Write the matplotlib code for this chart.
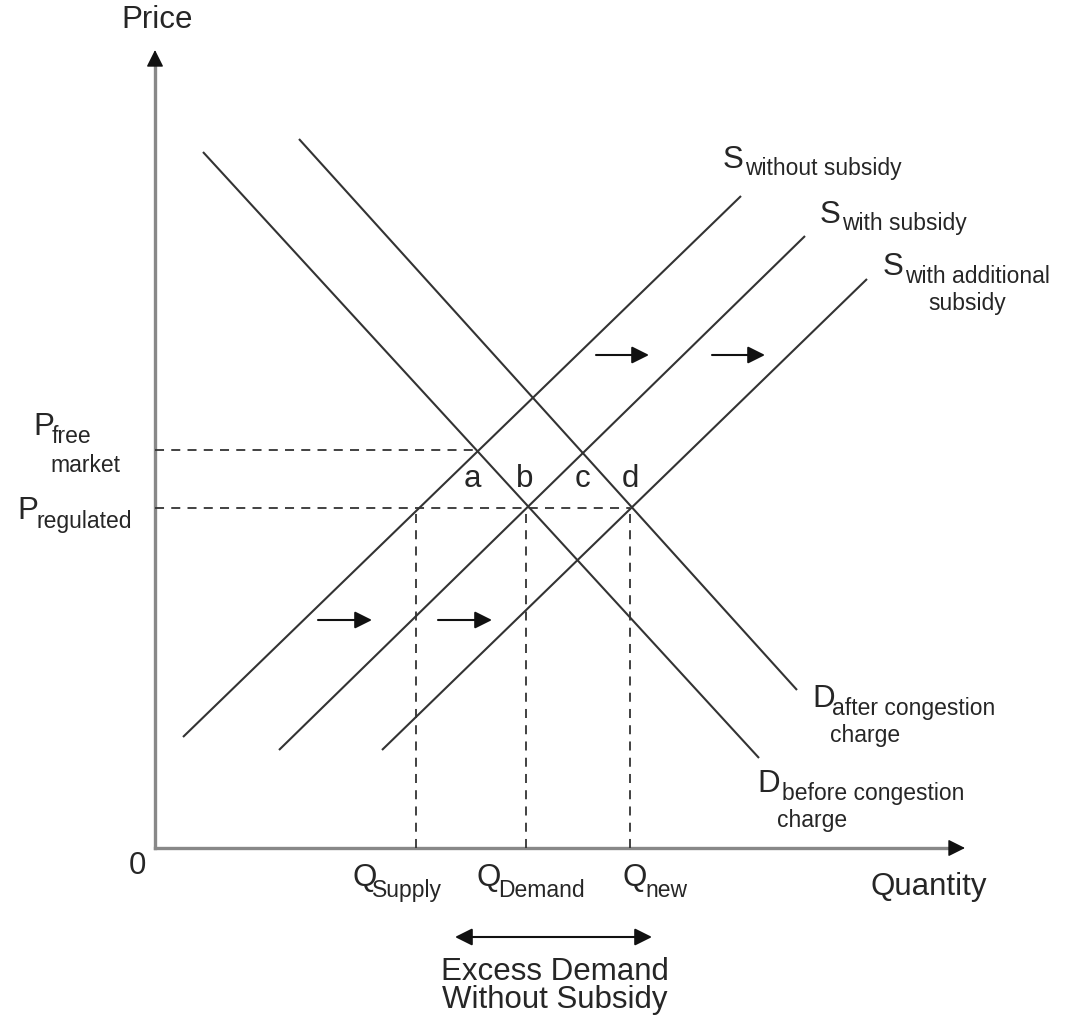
import matplotlib
matplotlib.use('Agg')
import matplotlib.pyplot as plt

plt.rcParams['font.family'] = ['Liberation Sans', 'DejaVu Sans']

# curve end points (quantity, price)
d_before_q = [4.8, 60.4]
d_before_p = [69.6, 9.0]
d_after_q = [14.4, 64.2]
d_after_p = [70.9, 15.8]
s_without_q = [2.8, 58.6]
s_without_p = [11.1, 65.2]
s_with_q = [12.4, 65.0]
s_with_p = [9.8, 61.2]
s_add_q = [22.7, 71.2]
s_add_p = [9.8, 56.9]

# price levels and quantities
p_free = 39.8
p_reg = 34.0
q_free = 32.3
q_supply = 26.1
q_demand = 37.1
q_new = 47.5

# points a-d
point_labels = ['a', 'b', 'c', 'd']
point_q = [31.7, 37.0, 42.8, 47.5]

# shift arrows: (start q, end q, price)
shift_arrows = [(16.3, 21.7, 22.8), (28.3, 33.7, 22.8),
                (44.1, 49.4, 49.3), (55.7, 61.0, 49.3)]

q_max = 81.0
p_max = 79.8

line_col = '#333333'
text_col = '#262626'
big = 22.5
small = 16.5

fig = plt.figure(figsize=(10.68, 10.23), dpi=100)
ax = fig.add_axes([0, 0, 1, 1])
ax.set_xlim(-15.5, 91.3)
ax.set_ylim(-17.5, 84.8)
ax.axis('off')

# axes: grey lines with black arrow heads
ax.plot([0, 0], [0, p_max - 1.0], color='#888888', lw=2.4, solid_capstyle='projecting')
ax.plot([0, q_max - 1.0], [0, 0], color='#888888', lw=2.4, solid_capstyle='projecting')
head = dict(arrowstyle='-|>', color='#111111', lw=1.0, mutation_scale=26,
            shrinkA=0, shrinkB=0)
ax.annotate('', xy=(0, p_max), xytext=(0, p_max - 1.5), arrowprops=head)
ax.annotate('', xy=(q_max, 0), xytext=(q_max - 1.5, 0), arrowprops=head)

# curves
for q, p in [(d_before_q, d_before_p), (d_after_q, d_after_p),
             (s_without_q, s_without_p), (s_with_q, s_with_p), (s_add_q, s_add_p)]:
    ax.plot(q, p, color=line_col, lw=1.5, solid_capstyle='butt')

# dashed guides
dash = dict(color=line_col, lw=1.3, ls=(0, (5, 4)))
ax.plot([0, q_free], [p_free, p_free], **dash)
ax.plot([0, q_new], [p_reg, p_reg], **dash)
for q in [q_supply, q_demand, q_new]:
    ax.plot([q, q], [0, p_reg], **dash)

# shift arrows
for q0, q1, p in shift_arrows:
    ax.annotate('', xy=(q1, p), xytext=(q0, p),
                arrowprops=dict(arrowstyle='-|>', color='#111111', lw=1.5,
                                mutation_scale=26, shrinkA=0, shrinkB=0))

# excess demand arrow
ax.annotate('', xy=(49.7, -8.9), xytext=(30.0, -8.9),
            arrowprops=dict(arrowstyle='<|-|>', color='#111111', lw=1.5,
                            mutation_scale=26, shrinkA=0, shrinkB=0))

def lab(x, y, s, size=big, ha='left', va='baseline'):
    ax.text(x, y, s, fontsize=size, ha=ha, va=va, color=text_col)

lab(0.2, 82.8, 'Price', ha='center', va='center')
lab(-1.8, -1.8, '0', ha='center', va='center')
lab(71.6, -4.7, 'Quantity')

for s, q in zip(point_labels, point_q):
    lab(q, 36.1, s, ha='center')

# price labels
lab(-12.2, 41.3, 'P')
lab(-10.3, 40.5, 'free', small)
lab(-10.5, 37.6, 'market', small)
lab(-13.8, 32.9, 'P')
lab(-11.8, 32.0, 'regulated', small)

# quantity labels
lab(19.7, -3.8, 'Q')
lab(21.7, -4.9, 'Supply', small)
lab(32.2, -3.8, 'Q')
lab(34.3, -4.9, 'Demand', small)
lab(46.7, -3.8, 'Q')
lab(49.0, -4.9, 'new', small)

lab(40.0, -13.2, 'Excess Demand', ha='center')
lab(40.0, -16.0, 'Without Subsidy', ha='center')

# supply labels
lab(56.8, 68.0, 'S')
lab(59.0, 67.3, 'without subsidy', small)
lab(66.5, 62.5, 'S')
lab(68.7, 61.8, 'with subsidy', small)
lab(72.8, 57.3, 'S')
lab(75.0, 56.5, 'with additional', small)
lab(81.2, 53.8, 'subsidy', small, ha='center')

# demand labels
lab(65.7, 14.1, 'D')
lab(67.7, 13.3, 'after congestion', small)
lab(67.5, 10.6, 'charge', small)
lab(60.2, 5.6, 'D')
lab(62.7, 4.8, 'before congestion', small)
lab(62.2, 2.1, 'charge', small)

fig.savefig('out.png', dpi=100, facecolor='w')
plt.close()
